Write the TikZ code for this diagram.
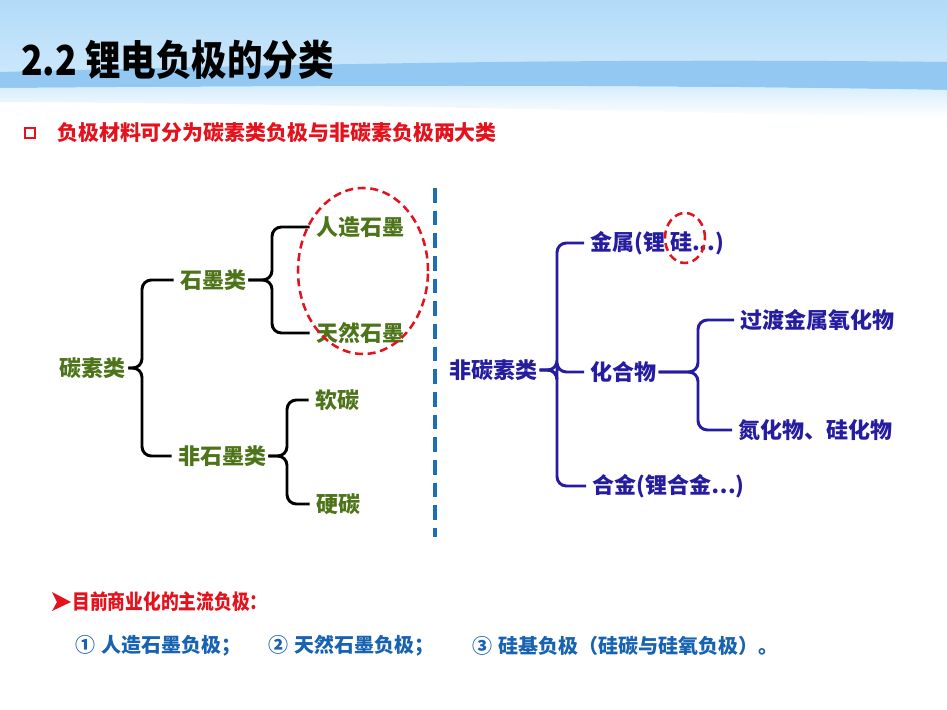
\documentclass[tikz,border=0pt]{standalone}
\usepackage{fontspec}
\usepackage{xcolor}
\newfontfamily\cjk{Noto Sans CJK SC}
\newfontfamily\cjknarrow{Noto Sans CJK SC}[FakeStretch=0.86]
\definecolor{leafgreen}{RGB}{78,116,26}
\definecolor{inkblue}{RGB}{38,28,160}
\definecolor{alarmred}{RGB}{228,18,28}
\definecolor{noteblue}{RGB}{24,98,178}
\definecolor{lineblue}{RGB}{30,110,180}
\definecolor{skytop}{RGB}{178,219,248}
\definecolor{skyband}{RGB}{146,200,241}
\definecolor{skylow}{RGB}{212,236,252}

\begin{document}
\begin{tikzpicture}[x=0.75pt,y=-0.75pt,
	carbon/.style={text=leafgreen,font=\cjk\bfseries\fontsize{16.5}{18}\selectfont,inner sep=1.5pt},
	other/.style={text=inkblue,font=\cjk\bfseries\fontsize{16.5}{18}\selectfont,inner sep=1.5pt,anchor=west},
	note/.style={text=noteblue,font=\cjk\bfseries\fontsize{15}{16}\selectfont,inner sep=0pt,anchor=west},
	blackbrace/.style={draw=black,line width=2.2pt,rounded corners=7pt,shorten >=3pt},
	bluebrace/.style={draw=inkblue,line width=2.2pt,rounded corners=7pt,shorten >=3pt},
	ring/.style={draw=alarmred,line width=1.9pt,dash pattern=on 6pt off 3.5pt}
]
	\useasboundingbox (0,0) rectangle (947,710);
	\fill[white] (0,0) rectangle (947,710);
	\shade[top color=skytop, bottom color=skylow] (0,0) rectangle (947,100);
	\fill[skyband]
		(0,72) .. controls (300,64) and (600,58) .. (947,62)
		-- (947,90) .. controls (600,84) and (300,86) .. (0,88) -- cycle;
	\shade[top color=skylow, bottom color=white]
		(0,88) .. controls (300,86) and (600,84) .. (947,90)
		-- (947,118) .. controls (600,110) and (300,104) .. (0,102) -- cycle;
	\fill[white]
		(0,102) .. controls (300,104) and (600,110) .. (947,118)
		-- (947,710) -- (0,710) -- cycle;

	\node[anchor=west,inner sep=0pt,font=\cjknarrow\bfseries\fontsize{31}{34}\selectfont]
		(title) at (21,60) {2.2 锂电负极的分类};
	\node[draw=alarmred,line width=1.5pt,minimum size=8pt,inner sep=0pt]
		(box) at (30,133) {};
	\node[anchor=west,inner sep=0pt,text=alarmred,font=\cjk\bfseries\fontsize{15.7}{17}\selectfont]
		(lead) at (57,133) {负极材料可分为碳素类负极与非碳素负极两大类};

	\node[carbon] (carbon) at (93,368) {碳素类};
	\node[carbon] (graphite) at (213,280) {石墨类};
	\node[carbon] (nongraphite) at (222,456) {非石墨类};
	\node[carbon] (artificial) at (360,227) {人造石墨};
	\node[carbon] (natural) at (360,333) {天然石墨};
	\node[carbon] (soft) at (337,400) {软碳};
	\node[carbon] (hard) at (338,504) {硬碳};

	\coordinate (spineA) at (142,0);
	\coordinate (spineB) at (272,0);
	\coordinate (spineC) at (287,0);

	\draw[blackbrace] (carbon.east) -| (spineA |- graphite.west) -- (graphite.west);
	\draw[blackbrace] (carbon.east) -| (spineA |- nongraphite.west) -- (nongraphite.west);
	\draw[blackbrace] (graphite.east) -| (spineB |- artificial.west) -- (artificial.west);
	\draw[blackbrace] (graphite.east) -| (spineB |- natural.west) -- (natural.west);
	\draw[blackbrace] (nongraphite.east) -| (spineC |- soft.west) -- (soft.west);
	\draw[blackbrace] (nongraphite.east) -| (spineC |- hard.west) -- (hard.west);

	\draw[ring] (363,271) ellipse [x radius=48.75pt, y radius=62.25pt];

	\draw[lineblue, line width=2.4pt, dash pattern=on 11pt off 6pt]
		(435,188) -- (435,537);

	\node[other] (noncarbon) at (447,370) {非碳素类};
	\node[other] (metal) at (588,243) {金属(锂 硅...)};
	\node[other] (compound) at (588,372) {化合物};
	\node[other] (alloy) at (590,486) {合金(锂合金…)};
	\node[other] (oxide) at (738,320) {过渡金属氧化物};
	\node[other] (nitride) at (736,430) {氮化物、硅化物};

	\coordinate (spineD) at (557,0);
	\coordinate (spineE) at (698,0);

	\draw[bluebrace] (noncarbon.east) -| (spineD |- metal.west) -- (metal.west);
	\draw[bluebrace] (noncarbon.east) -| (spineD |- compound.west) -- (compound.west);
	\draw[bluebrace] (noncarbon.east) -| (spineD |- alloy.west) -- (alloy.west);
	\draw[bluebrace] (compound.east) -| (spineE |- oxide.west) -- (oxide.west);
	\draw[bluebrace] (compound.east) -| (spineE |- nitride.west) -- (nitride.west);

	\draw[ring] (685,238) ellipse [x radius=15pt, y radius=18.75pt];

	\fill[alarmred] (52,592) -- (71,602) -- (52,611) -- (57,602) -- cycle;
	\node[anchor=west,inner sep=0pt,text=alarmred,font=\cjknarrow\bfseries\fontsize{15.5}{17}\selectfont]
		(main) at (72,602) {目前商业化的主流负极：};
	\node[note] (first) at (75,646) {①\hspace{5pt}人造石墨负极；};
	\node[note] (second) at (268,646) {②\hspace{5pt}天然石墨负极；};
	\node[note] (third) at (472,646) {③\hspace{5pt}硅基负极（硅碳与硅氧负极）。};
\end{tikzpicture}
\end{document}
